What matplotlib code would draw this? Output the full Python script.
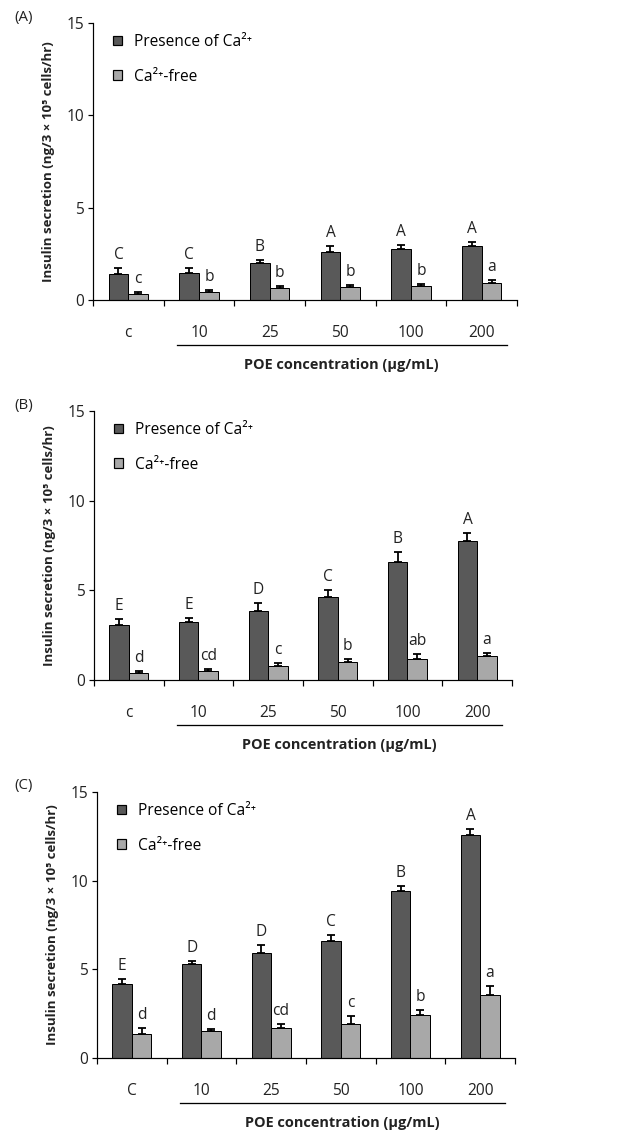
import matplotlib
matplotlib.use("Agg")
import matplotlib.pyplot as plt
import matplotlib.transforms as mtransforms
from matplotlib.patches import Patch
import numpy as np

plt.rcParams['font.family'] = ['Open Sans', 'DejaVu Sans']

# ---- data ----
categories_A = ["c", "10", "25", "50", "100", "200"]
categories_B = ["c", "10", "25", "50", "100", "200"]
categories_C = ["C", "10", "25", "50", "100", "200"]

ca_A = [1.41, 1.45, 2.02, 2.62, 2.75, 2.93]
ca_err_A = [0.34, 0.30, 0.15, 0.33, 0.23, 0.23]
free_A = [0.31, 0.43, 0.63, 0.69, 0.74, 0.94]
free_err_A = [0.14, 0.11, 0.15, 0.12, 0.11, 0.14]
lab_ca_A = ["C", "C", "B", "A", "A", "A"]
lab_free_A = ["c", "b", "b", "b", "b", "a"]

ca_B = [3.07, 3.22, 3.87, 4.65, 6.60, 7.77]
ca_err_B = [0.31, 0.22, 0.44, 0.35, 0.56, 0.41]
free_B = [0.41, 0.52, 0.80, 0.99, 1.19, 1.36]
free_err_B = [0.11, 0.09, 0.17, 0.16, 0.24, 0.13]
lab_ca_B = ["E", "E", "D", "C", "B", "A"]
lab_free_B = ["d", "cd", "c", "b", "ab", "a"]

ca_C = [4.19, 5.28, 5.92, 6.62, 9.40, 12.56]
ca_err_C = [0.26, 0.19, 0.47, 0.33, 0.32, 0.37]
free_C = [1.35, 1.52, 1.71, 1.94, 2.44, 3.57]
free_err_C = [0.34, 0.13, 0.19, 0.45, 0.29, 0.47]
lab_ca_C = ["E", "D", "D", "C", "B", "A"]
lab_free_C = ["d", "d", "cd", "c", "b", "a"]

yticks = [0, 5, 10, 15]
xlabel = "POE concentration (\u03bcg/mL)"
ylabel = "Insulin secretion (ng/3 \u00d7 10\u2075 cells/hr)"
legend_labels = ["Presence of Ca\u00b2\u207a", "Ca\u00b2\u207a-free"]
panel_letters = ["(A)", "(B)", "(C)"]

DARK = "#595959"
LIGHT = "#a8a8a8"

W, H = 623, 1134
DPI = 72
fig = plt.figure(figsize=(W / DPI, H / DPI), dpi=DPI)

# pixel boxes: left, right, top(y=15), bottom(y=0)
boxes = [(93, 517, 23, 300), (94, 512, 411, 680), (97, 515, 792, 1058)]
panel_pos = [(14, 18), (14, 405), (14, 785)]

panels = [
    (categories_A, ca_A, ca_err_A, free_A, free_err_A, lab_ca_A, lab_free_A),
    (categories_B, ca_B, ca_err_B, free_B, free_err_B, lab_ca_B, lab_free_B),
    (categories_C, ca_C, ca_err_C, free_C, free_err_C, lab_ca_C, lab_free_C),
]

bw = 0.28
for i, (box, data) in enumerate(zip(boxes, panels)):
    l, r, t, b = box
    ax = fig.add_axes([l / W, (H - b) / H, (r - l) / W, (b - t) / H])
    cats, ca, cae, fr, fre, lca, lfr = data
    x = np.arange(len(cats))
    ax.bar(x - bw / 2, ca, bw, color=DARK, edgecolor="black", linewidth=1.0, zorder=2)
    ax.bar(x + bw / 2, fr, bw, color=LIGHT, edgecolor="black", linewidth=1.0, zorder=2)
    ax.errorbar(x - bw / 2, ca, yerr=[np.zeros(len(ca)), cae], fmt="none",
                ecolor="black", elinewidth=1.8, capsize=4, capthick=1.8, zorder=3)
    ax.errorbar(x + bw / 2, fr, yerr=[np.zeros(len(fr)), fre], fmt="none",
                ecolor="black", elinewidth=1.8, capsize=4, capthick=1.8, zorder=3)
    for xi, v, e, s in zip(x - bw / 2, ca, cae, lca):
        ax.annotate(s, (xi, v + e), xytext=(0, 5), textcoords="offset points",
                    ha="center", va="bottom", fontsize=15.5, color="#222222")
    for xi, v, e, s in zip(x + bw / 2, fr, fre, lfr):
        ax.annotate(s, (xi, v + e), xytext=(0, 5), textcoords="offset points",
                    ha="center", va="bottom", fontsize=15.5, color="#222222")

    ax.set_xlim(-0.5, len(cats) - 0.5)
    ax.set_ylim(0, 15)
    ax.set_yticks(yticks)
    ax.set_yticklabels([str(v) for v in yticks], fontsize=15.5, color="#222222")
    ax.tick_params(axis="y", direction="out", length=5, width=1.2, pad=4)
    ax.set_xticks(np.arange(len(cats) + 1) - 0.5)
    ax.set_xticklabels([])
    ax.tick_params(axis="x", direction="out", length=6, width=1.2)
    for s in ["top", "right"]:
        ax.spines[s].set_visible(False)
    for s in ["left", "bottom"]:
        ax.spines[s].set_linewidth(1.2)

    hpx = b - t
    blend = mtransforms.blended_transform_factory(ax.transData, ax.transAxes)
    for xi, c in zip(x, cats):
        ax.text(xi, -33 / hpx, c, transform=blend, ha="center", va="center",
                fontsize=15.5, color="#222222")
    ax.plot([0.69, 5.36], [-45 / hpx, -45 / hpx], transform=blend, color="black",
            linewidth=1.3, clip_on=False)
    ax.text(3.02, -65 / hpx, xlabel, transform=blend, ha="center", va="center",
            fontsize=14.5, fontweight="bold", color="#222222")

    ax.set_ylabel(ylabel, fontsize=13.2, fontweight="bold", color="#222222")
    ax.yaxis.set_label_coords(-38 / (r - l), 0.5)

    handles = [Patch(facecolor=DARK, edgecolor="black", linewidth=1.2),
               Patch(facecolor=LIGHT, edgecolor="black", linewidth=1.2)]
    ax.legend(handles, legend_labels, loc="upper left",
              bbox_to_anchor=(20 / (r - l), 1 - 11 / hpx), frameon=False,
              fontsize=15.5, handlelength=0.6, handleheight=0.6, handletextpad=0.75,
              labelspacing=1.2, borderpad=0, borderaxespad=0)

    px, py = panel_pos[i]
    fig.text(px / W, 1 - py / H, panel_letters[i], fontsize=15, ha="left",
             va="center", color="#222222")

fig.savefig("out.png", dpi=DPI)
